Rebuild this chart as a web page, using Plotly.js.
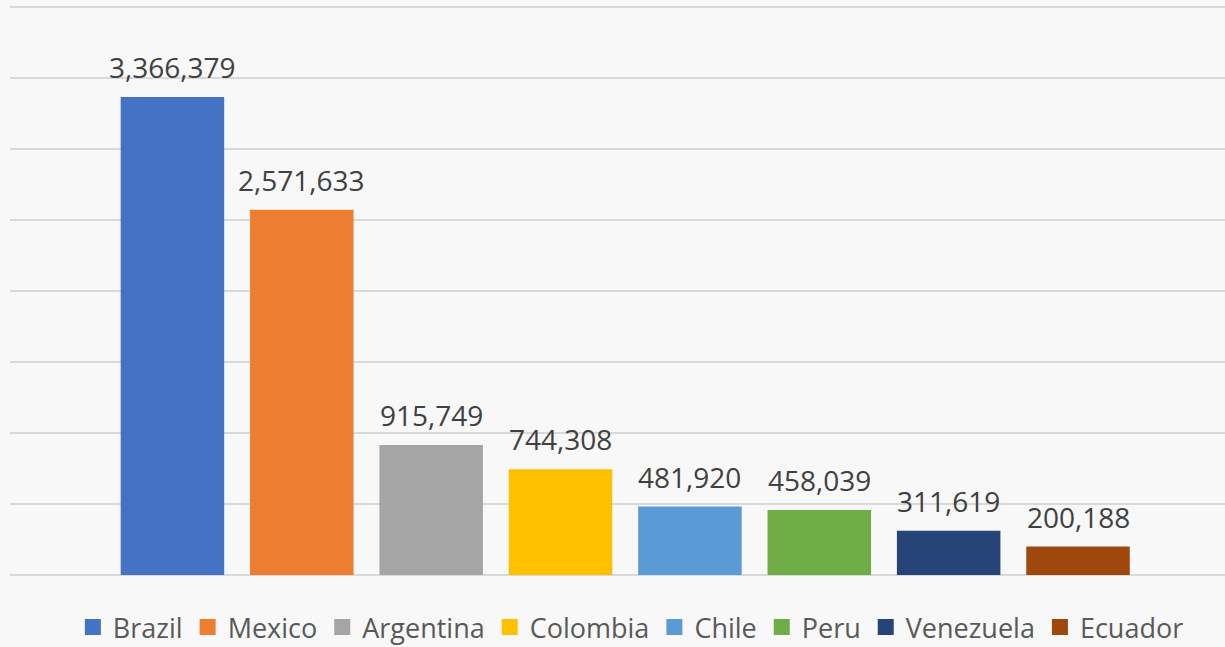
<!DOCTYPE html>
<html>
<head>
<meta charset="utf-8">
<script src="https://cdn.plot.ly/plotly-3.0.1.min.js"></script>
<style>html,body{margin:0;padding:0;background:#f8f8f8;}#chart{width:1225px;height:647px;}</style>
</head>
<body>
<div id="chart"></div>
<script>
const countries = ["Brazil","Mexico","Argentina","Colombia","Chile","Peru","Venezuela","Ecuador"];
const values = [3366379, 2571633, 915749, 744308, 481920, 458039, 311619, 200188];
const colors = ["#4472C4","#ED7D31","#A5A5A5","#FFC000","#5B9BD5","#70AD47","#264478","#9E480E"];

const fontFam = '"Open Sans", "DejaVu Sans", sans-serif';
const traces = [];
countries.forEach((c, i) => {
  traces.push({
    type: 'bar', x: [i], y: [values[i]], name: c, width: 0.8,
    marker: {color: colors[i]}, showlegend: false, hoverinfo: 'skip'
  });
});
countries.forEach((c, i) => {
  traces.push({
    type: 'scatter', mode: 'markers', x: [null], y: [null], name: c,
    marker: {color: colors[i], symbol: 'square', size: 18}, showlegend: true
  });
});

const annotations = countries.map((c, i) => ({
  x: i, y: values[i], xref: 'x', yref: 'y',
  text: values[i].toLocaleString('en-US'),
  showarrow: false, yanchor: 'bottom', yshift: 9,
  font: {family: fontFam, size: 28, color: '#404040'}
}));

const layout = {
  width: 1225, height: 647,
  margin: {l: 10, r: 0, t: 5, b: 72, autoexpand: false},
  paper_bgcolor: '#f8f8f8', plot_bgcolor: 'rgba(0,0,0,0)',
  barmode: 'overlay',
  xaxis: {range: [-1.2555, 8.136], showticklabels: false, showgrid: false, zeroline: false, ticks: ''},
  yaxis: {range: [0, 4014085], dtick: 500000, showticklabels: false, gridcolor: '#d9d9d9', gridwidth: 1.3,
          zeroline: true, zerolinecolor: '#d9d9d9', zerolinewidth: 1.3, ticks: ''},
  showlegend: true,
  legend: {orientation: 'h', x: 0.511, xanchor: 'center', xref: 'paper',
           y: 0.068, yanchor: 'top', yref: 'container',
           font: {family: fontFam, size: 27, color: '#595959'}, bgcolor: 'rgba(0,0,0,0)'},
  annotations: annotations,
  font: {family: fontFam}
};
Plotly.newPlot('chart', traces, layout, {displayModeBar: false, staticPlot: true});
</script>
</body>
</html>
